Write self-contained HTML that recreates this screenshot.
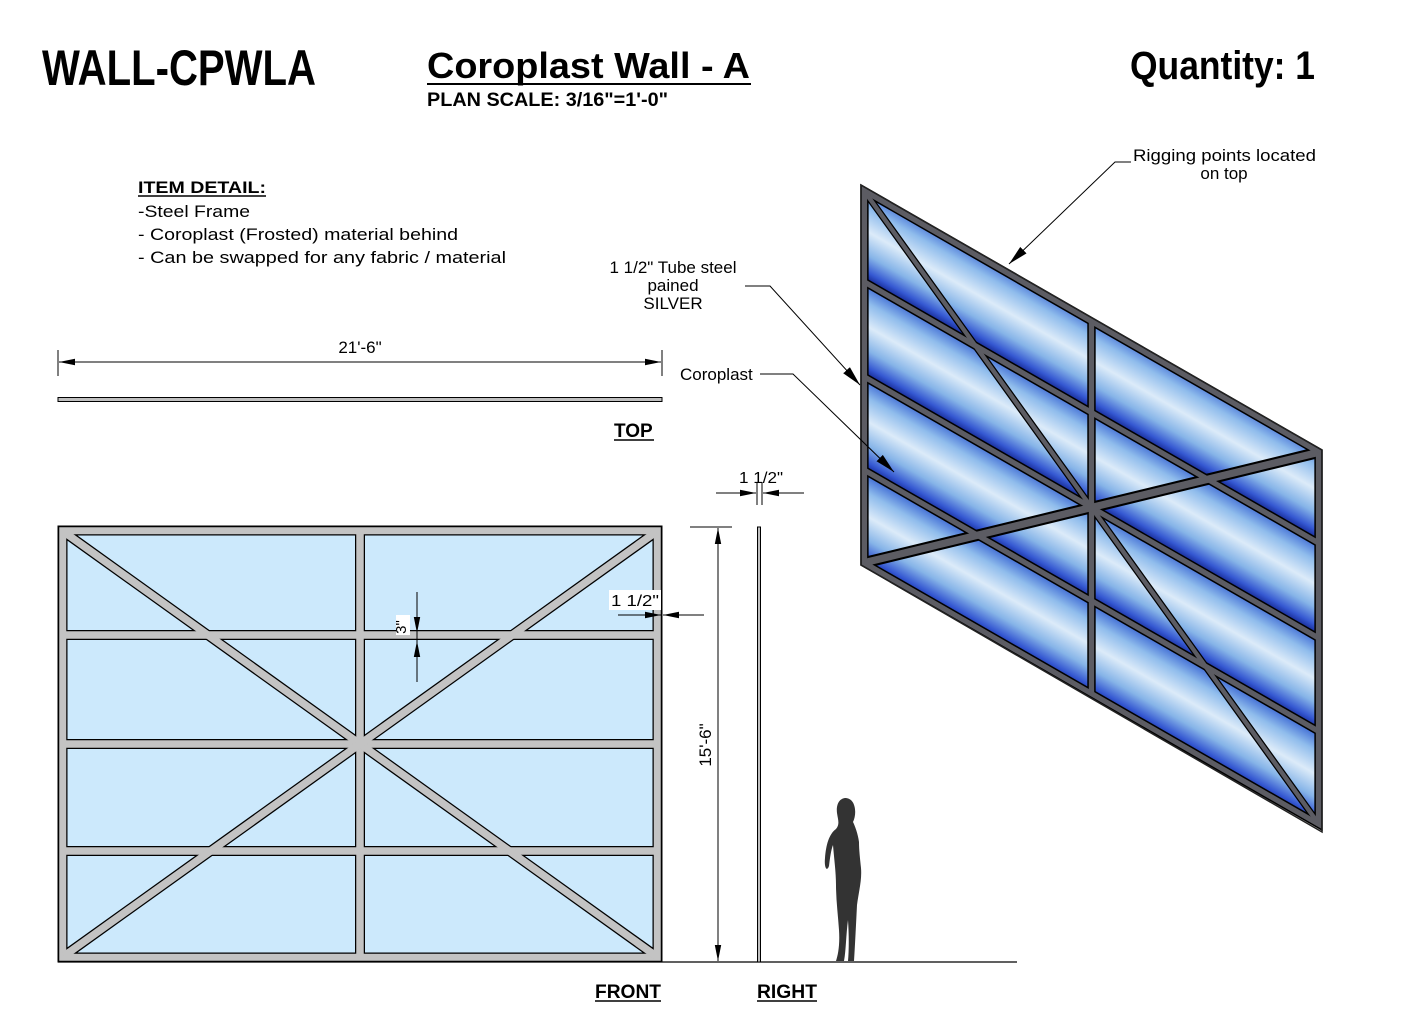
<!DOCTYPE html>
<html><head><meta charset="utf-8"><style>
html,body{margin:0;padding:0;background:#fff;}
svg{display:block;}
text{font-family:"Liberation Sans",sans-serif;}
.n{font-family:"Liberation Sans Narrow","Liberation Sans",sans-serif;font-weight:bold;}
</style></head><body>
<svg width="1410" height="1017" viewBox="0 0 1410 1017" xmlns="http://www.w3.org/2000/svg">
<defs>
<marker id="ar" viewBox="0 0 16 8" refX="16" refY="4" markerWidth="16" markerHeight="8" orient="auto-start-reverse" markerUnits="userSpaceOnUse"><path d="M0,0.8 L16,4 L0,7.2 Z" fill="#000"/></marker>
<marker id="la" viewBox="0 0 20 10" refX="20" refY="5" markerWidth="20" markerHeight="10" orient="auto" markerUnits="userSpaceOnUse"><path d="M0,0.5 L20,5 L0,9.5 Z" fill="#000"/></marker>
<linearGradient id="bl" gradientUnits="userSpaceOnUse" x1="0" y1="0" x2="0" y2="109" spreadMethod="repeat">
<stop offset="0" stop-color="#3e6ad4"/><stop offset="0.2" stop-color="#8fbcec"/><stop offset="0.45" stop-color="#dcebf9"/><stop offset="0.7" stop-color="#86b4e8"/><stop offset="0.88" stop-color="#3558d2"/><stop offset="1" stop-color="#0c1a80"/>
</linearGradient>
<g id="members">
<rect x="4.5" y="4.5" width="595" height="427" fill="none"/>
<line x1="302" y1="5" x2="302" y2="431"/>
<line x1="5" y1="109" x2="599" y2="109"/>
<line x1="5" y1="218" x2="599" y2="218"/>
<line x1="5" y1="325" x2="599" y2="325"/>
<line x1="6" y1="6" x2="598" y2="430"/>
<line x1="6" y1="430" x2="598" y2="6"/>
</g>
</defs>

<text x="42" y="85" class="n" font-size="50" textLength="274" lengthAdjust="spacingAndGlyphs">WALL-CPWLA</text>
<text x="427" y="78" class="n" font-size="36" textLength="323" lengthAdjust="spacingAndGlyphs">Coroplast Wall - A</text>
<line x1="427" y1="84" x2="751" y2="84" stroke="#000" stroke-width="2"/>
<text x="427" y="106" class="n" font-size="19" textLength="241" lengthAdjust="spacingAndGlyphs">PLAN  SCALE: 3/16"=1'-0"</text>
<text x="1130" y="79" class="n" font-size="40" textLength="185" lengthAdjust="spacingAndGlyphs">Quantity: 1</text>

<text x="138" y="193" class="n" font-size="17" textLength="128" lengthAdjust="spacingAndGlyphs">ITEM DETAIL:</text>
<line x1="138" y1="196" x2="266" y2="196" stroke="#000" stroke-width="1.5"/>
<text x="138" y="217" font-size="17" textLength="112" lengthAdjust="spacingAndGlyphs">-Steel Frame</text>
<text x="138" y="240" font-size="17" textLength="320" lengthAdjust="spacingAndGlyphs">- Coroplast (Frosted) material behind</text>
<text x="138" y="263" font-size="17" textLength="368" lengthAdjust="spacingAndGlyphs">- Can be swapped for any fabric / material</text>

<line x1="58" y1="350" x2="58" y2="376" stroke="#000"/>
<line x1="662" y1="350" x2="662" y2="376" stroke="#000"/>
<line x1="59" y1="362" x2="661" y2="362" stroke="#000" marker-start="url(#ar)" marker-end="url(#ar)"/>
<text x="360" y="353" font-size="17" text-anchor="middle">21'-6"</text>
<rect x="58" y="397.5" width="604" height="4" fill="#c0c0c0" stroke="#000" stroke-width="1"/>
<text x="614" y="437" class="n" font-size="19">TOP</text>
<line x1="614" y1="440" x2="654" y2="440" stroke="#000" stroke-width="1.5"/>

<g transform="translate(58,526)">
<rect x="0" y="0" width="604" height="436" fill="#cce9fc"/>
<g stroke="#000" stroke-width="10"><use href="#members"/></g>
<g stroke="#c3c3c3" stroke-width="7.5"><use href="#members"/></g>
<rect x="0.5" y="0.5" width="603" height="435" fill="none" stroke="#000" stroke-width="1.5"/>
</g>
<line x1="417" y1="592" x2="417" y2="682" stroke="#000"/>
<line x1="417" y1="595" x2="417" y2="633" stroke="#000" marker-end="url(#ar)"/>
<line x1="417" y1="680" x2="417" y2="641" stroke="#000" marker-end="url(#ar)"/>
<rect x="396" y="615" width="14" height="20" fill="#fff"/>
<text transform="translate(406,627) rotate(-90)" font-size="15" text-anchor="middle">3"</text>
<rect x="609" y="590" width="52" height="20" fill="#fff"/>
<text x="611" y="606" font-size="16" textLength="48" lengthAdjust="spacingAndGlyphs">1 1/2"</text>
<line x1="618" y1="615" x2="661" y2="615" stroke="#000" marker-end="url(#ar)"/>
<line x1="704" y1="615" x2="663" y2="615" stroke="#000" marker-end="url(#ar)"/>

<line x1="58" y1="962" x2="1017" y2="962" stroke="#000" stroke-width="1.2"/>
<line x1="690" y1="527" x2="732" y2="527" stroke="#000"/>
<line x1="718" y1="528" x2="718" y2="961" stroke="#000" marker-start="url(#ar)" marker-end="url(#ar)"/>
<text transform="translate(711,745) rotate(-90)" font-size="17" text-anchor="middle">15'-6"</text>

<rect x="757.5" y="527" width="3" height="435" fill="#c0c0c0" stroke="#000" stroke-width="1"/>
<line x1="757" y1="482" x2="757" y2="505" stroke="#000"/>
<line x1="762" y1="482" x2="762" y2="505" stroke="#000"/>
<line x1="716" y1="493" x2="756" y2="493" stroke="#000" marker-end="url(#ar)"/>
<line x1="804" y1="493" x2="763" y2="493" stroke="#000" marker-end="url(#ar)"/>
<text x="739" y="483" font-size="16" textLength="44" lengthAdjust="spacingAndGlyphs">1 1/2"</text>

<text x="595" y="998" class="n" font-size="19" textLength="66" lengthAdjust="spacingAndGlyphs">FRONT</text>
<line x1="595" y1="1001" x2="661" y2="1001" stroke="#000" stroke-width="1.5"/>
<text x="757" y="998" class="n" font-size="19" textLength="60" lengthAdjust="spacingAndGlyphs">RIGHT</text>
<line x1="757" y1="1001" x2="817" y2="1001" stroke="#000" stroke-width="1.5"/>

<path d="M846,798 C839,798 836,805 837,813 C838,820 840,824 836,829 C829,834 826,845 825,858 C824,868 827,872 829,866 C830,858 831,850 833,845 C834,858 836,872 836,885 C836,900 838,915 839,930 C840,945 838,955 836,961 L844,961 C846,950 846,935 848,920 C849,935 849,950 848,961 L854,961 C855,945 856,925 857,905 C859,890 862,880 861,868 C860,858 859,850 859,842 C858,834 855,826 853,822 C857,814 856,799 846,798 Z" fill="#333"/>

<g transform="matrix(0.7632,0.4387,0,0.8716,861,185)">
<rect x="0" y="0" width="604" height="436" fill="url(#bl)"/>
<g stroke="#000" stroke-width="11"><use href="#members"/></g>
<g stroke="#5c5c63" stroke-width="7"><use href="#members"/></g>
</g>
<polygon points="861,185 1322,450 1322,832 861,565" fill="none" stroke="#222" stroke-width="1.5"/>

<text x="1133" y="161" font-size="17" textLength="183" lengthAdjust="spacingAndGlyphs">Rigging points located</text>
<text x="1224" y="179" font-size="17" text-anchor="middle">on top</text>
<polyline points="1131,162 1115,162 1009,264" fill="none" stroke="#000" marker-end="url(#la)"/>
<text x="673" y="273" font-size="17" text-anchor="middle">1 1/2" Tube steel</text>
<text x="673" y="291" font-size="17" text-anchor="middle">pained</text>
<text x="673" y="309" font-size="17" text-anchor="middle">SILVER</text>
<polyline points="745,286 770,286 860,385" fill="none" stroke="#000" marker-end="url(#la)"/>
<text x="680" y="380" font-size="17">Coroplast</text>
<polyline points="760,374 793,374 894,472" fill="none" stroke="#000" marker-end="url(#la)"/>
</svg>
</body></html>
